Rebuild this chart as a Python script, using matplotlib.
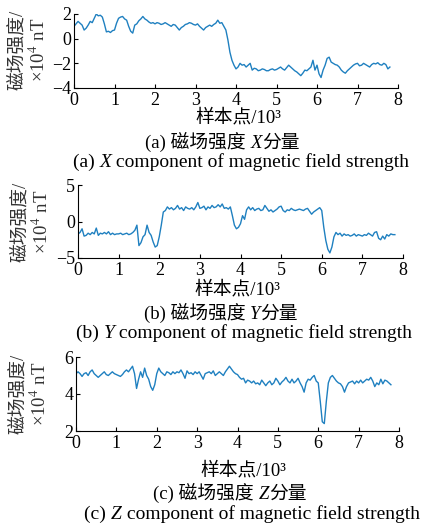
# Magnetic field strength components X / Y / Z
import numpy as np
import matplotlib
matplotlib.use("Agg")
import matplotlib.pyplot as plt
from matplotlib.offsetbox import TextArea, HPacker, AnchoredOffsetbox

plt.rcParams['font.family'] = ['Liberation Serif', 'Noto Sans CJK SC']
plt.rcParams['mathtext.fontset'] = 'stix'
plt.rcParams['axes.unicode_minus'] = True

# samples every 0.05 x 10^3 points
step = 0.05
bx = [1.0, 1.2, 1.4, 1.25, 1.1, 0.7, 0.85, 1.1, 1.4, 1.3,
      1.65, 2.0, 1.85, 1.9, 1.75, 1.2, 0.55, 0.6, 0.5, 0.65,
      0.7, 1.25, 1.65, 1.75, 1.8, 1.6, 1.5, 1.0, 0.6, 0.45,
      1.1, 1.2, 1.45, 1.6, 1.8, 1.6, 1.5, 1.35, 1.25, 1.3,
      1.2, 1.3, 1.25, 1.15, 1.2, 1.3, 1.2, 1.1, 1.0, 1.15,
      1.1, 0.9, 0.7, 0.9, 1.0, 1.15, 1.2, 1.3, 1.25, 1.15,
      1.1, 1.2, 1.0, 0.85, 0.7, 0.9, 1.0, 1.1, 1.0, 1.15,
      1.25, 1.5, 1.25, 1.3, 1.0, 0.7, -0.1, -1.1, -1.75, -2.15,
      -2.45, -2.3, -2.0, -2.15, -2.1, -2.3, -2.15, -2.0, -2.55, -2.4,
      -2.45, -2.6, -2.55, -2.45, -2.5, -2.6, -2.6, -2.5, -2.45, -2.55,
      -2.5, -2.4, -2.3, -2.45, -2.55, -2.35, -2.15, -2.3, -2.45, -2.6,
      -2.7, -2.85, -3.0, -2.8, -2.55, -2.6, -2.45, -2.3, -1.75, -2.55,
      -2.15, -2.85, -3.15, -2.55, -2.15, -1.6, -1.5, -1.9, -2.0, -2.1,
      -2.15, -2.3, -2.55, -2.7, -2.8, -2.6, -2.45, -2.3, -2.15, -2.05,
      -2.0, -2.2, -2.15, -2.0, -2.1, -2.2, -2.3, -2.1, -2.0, -2.05,
      -1.95, -2.1, -2.15, -2.0, -2.1, -2.45, -2.3]

by = [-1.7, -1.5, -1.0, -2.0, -1.9, -1.6, -1.8, -1.5, -1.7, -0.9,
      -1.9, -1.6, -1.7, -1.5, -1.7, -1.4, -1.8, -1.6, -1.8, -1.7,
      -1.7, -1.6, -1.8, -1.7, -1.6, -1.8, -1.7, -1.5, -1.2, -0.5,
      -3.3, -2.9, -2.1, -1.8, -0.5, -1.5, -1.9, -2.8, -3.5, -3.3,
      -2.1, -0.5, 1.3, 1.5, 2.0, 1.7, 1.9, 1.6, 1.8, 2.2,
      1.7, 1.9, 1.5, 2.0, 1.8, 1.7, 1.9, 1.6, 2.0, 2.6,
      1.8, 1.9, 2.1, 1.6, 2.0, 1.8, 2.2, 1.9, 2.0, 2.3,
      2.0, 2.4, 1.8, 1.9, 1.7, 2.0, 0.8, -0.5, -1.0, -0.8,
      -0.3, 0.8, 0.3, 1.6, 2.0, 1.6, 1.9, 1.5, 1.7, 1.8,
      1.5, 1.6, 2.2, 1.8, 1.4, 1.6, 1.3, 1.5, 1.7, 2.0,
      2.1, 1.5, 1.3, 1.6, 1.5, 1.8, 1.6, 1.5, 1.6, 1.7,
      1.6, 1.5, 1.7, 1.8, 1.4, 1.0, 1.3, 1.5, 1.7, 1.9,
      1.5, -0.8, -2.6, -3.8, -4.3, -3.5, -2.1, -1.5, -1.8, -1.6,
      -2.0, -1.7, -1.9, -1.8, -2.0, -1.9, -1.7, -2.0, -1.8, -1.9,
      -2.0, -1.8, -1.9, -1.6, -1.8, -2.0, -1.5, -1.4, -2.3, -2.5,
      -2.0, -2.4, -1.8, -2.0, -1.7, -1.8, -1.8]

bz = [5.1, 5.2, 5.1, 4.95, 5.1, 5.15, 5.0, 5.2, 5.3, 5.1,
      5.0, 4.9, 5.0, 5.1, 5.2, 5.05, 5.0, 5.1, 5.2, 5.1,
      5.05, 5.0, 4.95, 5.05, 5.2, 5.3, 5.2, 5.35, 5.5, 5.1,
      4.3, 4.8, 5.2, 4.9, 5.4, 5.0, 4.8, 4.4, 4.2, 4.5,
      5.1, 5.4, 5.2, 5.1, 5.0, 5.2, 5.15, 5.05, 5.2, 5.1,
      5.2, 5.15, 5.3, 5.1, 4.85, 5.25, 5.1, 5.15, 5.05, 5.2,
      5.1, 5.2, 5.0, 4.8, 5.1, 5.15, 5.2, 5.1, 5.25, 5.0,
      5.1, 5.2, 5.1, 5.0, 5.2, 5.35, 5.5, 5.35, 5.2, 5.1,
      5.05, 4.9, 4.8, 4.85, 4.6, 4.75, 4.7, 4.6, 4.7, 4.55,
      4.6, 4.5, 4.75, 4.6, 4.45, 4.6, 4.7, 4.5, 4.6, 4.85,
      4.7, 4.5, 4.65, 4.75, 4.9, 4.7, 4.6, 4.8, 4.6, 4.7,
      4.85, 4.6, 4.4, 4.1, 4.6, 4.8, 4.75, 4.9, 5.0, 4.7,
      4.6, 3.6, 2.5, 2.4, 3.6, 4.6, 4.9, 5.0, 4.85, 4.7,
      4.6, 4.55, 4.4, 4.1, 4.4, 4.6, 4.65, 4.7, 4.55, 4.7,
      4.6, 4.75, 4.6, 4.7, 4.8, 4.75, 4.9, 4.7, 4.4, 4.6,
      4.5, 4.8, 4.55, 4.75, 4.7, 4.6, 4.5]

x_ticks = [0, 1, 2, 3, 4, 5, 6, 7, 8]
y_ticks = [[-4, -2, 0, 2], [-5, 0, 5], [2, 4, 6]]
ylims = [(-4, 2), (-5, 5), (2, 6)]
tags = ['(a)', '(b)', '(c)']
comps = ['X', 'Y', 'Z']

W, H = 430, 525
fig = plt.figure(figsize=(W / 100, H / 100), dpi=100)

# axes boxes in pixels: left, right, top, bottom
boxes = [(74, 398, 14, 88), (78, 403, 185, 258), (76, 399, 357, 431)]
ylab_y = [50, 222, 394]
ylab_x = [(17, 39), (20, 42), (18, 40)]
xlab = [(238, 118), (237, 290), (243, 471)]
cn_pos = [(222, 142), (221, 313), (230, 493)]
en_pos = [(241, 162), (244, 333), (252, 514)]

fs = 13.5
col = '#1f80c0'


def caption(xy, parts, size):
    # parts: list of (text, italic?)
    kids = [TextArea(s, textprops=dict(fontsize=size,
                                       style='italic' if it else 'normal'))
            for s, it in parts]
    box = HPacker(children=kids, sep=0, pad=0, align='baseline')
    anc = AnchoredOffsetbox(loc='center', child=box, frameon=False, pad=0,
                            borderpad=0,
                            bbox_to_anchor=(xy[0] / W, 1 - xy[1] / H),
                            bbox_transform=fig.transFigure)
    fig.add_artist(anc)


for i, data in enumerate([bx, by, bz]):
    l, r, t, b = boxes[i]
    ax = fig.add_axes([l / W, 1 - b / H, (r - l) / W, (b - t) / H])
    xs = np.arange(len(data)) * step
    ax.plot(xs, data, color=col, lw=1.0)
    ax.set_xlim(0, 8)
    ax.set_ylim(*ylims[i])
    ax.set_xticks(x_ticks)
    ax.set_yticks(y_ticks[i])
    ax.spines['top'].set_visible(False)
    ax.spines['right'].set_visible(False)
    ax.tick_params(direction='in', length=3, labelsize=13, width=0.8)
    ax.tick_params(axis='x', pad=3)
    ax.tick_params(axis='y', pad=2)

    fig.text(ylab_x[i][0] / W, 1 - ylab_y[i] / H, '磁场强度/', rotation=90,
             ha='center', va='center', fontsize=fs, color='#333333')
    fig.text(ylab_x[i][1] / W, 1 - ylab_y[i] / H, '×10$^4$ nT', rotation=90,
             ha='center', va='center', fontsize=fs, color='#333333')
    fig.text(xlab[i][0] / W, 1 - xlab[i][1] / H, '样本点/10³',
             ha='center', va='center', fontsize=fs)
    caption(cn_pos[i], [(tags[i] + ' 磁场强度 ', False), (comps[i], True),
                        ('分量', False)], 13.5)
    caption(en_pos[i], [(tags[i] + ' ', False), (comps[i], True),
                        (' component of magnetic field strength', False)], 14)

fig.savefig('out.png', dpi=100)
